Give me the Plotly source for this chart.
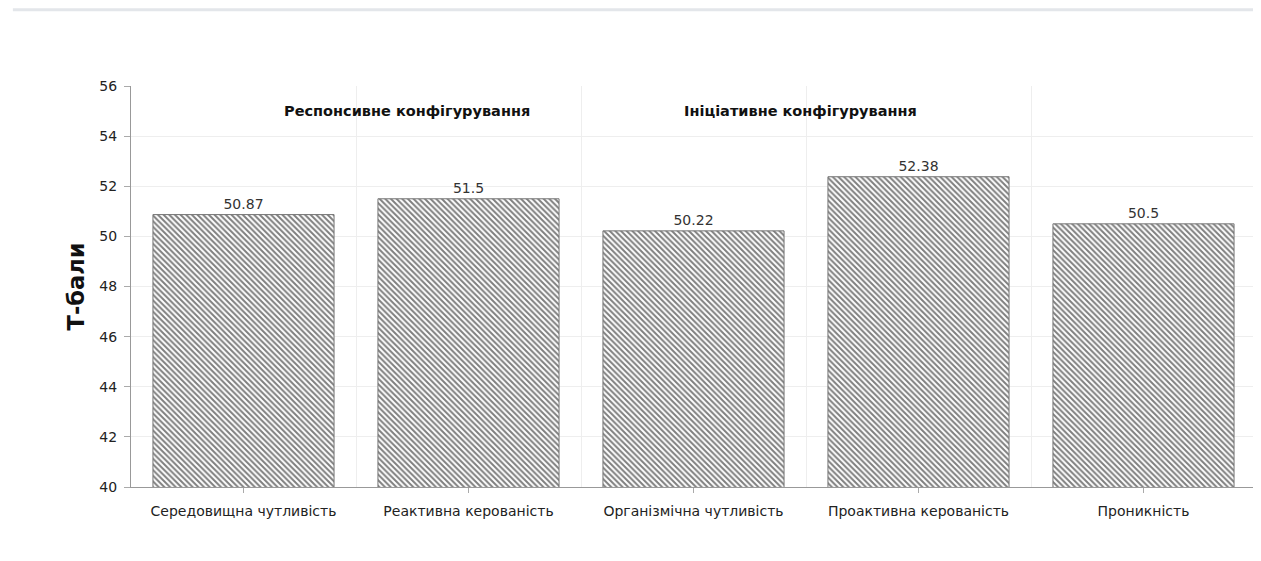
import plotly.graph_objects as go

categories = ["Середовищна чутливість", "Реактивна керованість", "Організмічна чутливість",
              "Проактивна керованість", "Проникність"]
values = [50.87, 51.5, 50.22, 52.38, 50.5]
value_labels = ["50.87", "51.5", "50.22", "52.38", "50.5"]
group_labels = ["Респонсивне конфігурування", "Ініціативне конфігурування"]
group_x = [0.725, 2.475]
y_ticks = [40, 42, 44, 46, 48, 50, 52, 54, 56]

FONT = "DejaVu Sans"
positions = list(range(len(categories)))
boundaries = [p - 0.5 for p in positions] + [positions[-1] + 0.5]

fig = go.Figure(go.Bar(
    x=positions,
    y=values,
    text=value_labels,
    textposition="outside",
    textfont=dict(family=FONT, size=14, color="#333333"),
    cliponaxis=False,
    width=0.805,
    marker=dict(
        color="white",
        line=dict(color="#777777", width=1),
        pattern=dict(shape="\\", fgcolor="#000000", bgcolor="white", size=4, solidity=0.5),
    ),
    hoverinfo="skip",
))

for label, gx in zip(group_labels, group_x):
    fig.add_annotation(x=gx, y=55, text="<b>" + label + "</b>", showarrow=False,
                       font=dict(family=FONT, size=14.5, color="#111111"))

# page border at the top
fig.add_shape(type="line", xref="paper", yref="paper", x0=-0.105, x1=1.0, y0=1.19, y1=1.19,
              line=dict(color="#e3e6ea", width=3))

fig.update_layout(
    width=1261, height=561,
    margin=dict(l=123, r=13, t=78, b=82),
    plot_bgcolor="white", paper_bgcolor="white",
    showlegend=False,
    font=dict(family=FONT, size=14, color="#333333"),
    xaxis=dict(
        range=[-0.5, 4.5],
        tickvals=positions, ticktext=categories,
        ticks="outside", ticklen=5, tickcolor="#aaaaaa",
        ticklabelstandoff=6,
        showline=True, linecolor="#999999", linewidth=1,
        showgrid=False, zeroline=False,
        tickfont=dict(family=FONT, size=14, color="#222222"),
        minor=dict(tickvals=boundaries, showgrid=True, gridcolor="#eeeeee", gridwidth=1, ticks=""),
    ),
    yaxis=dict(
        range=[40, 56],
        tickvals=y_ticks,
        ticks="outside", ticklen=6, tickcolor="#aaaaaa",
        ticklabelstandoff=4,
        showline=True, linecolor="#999999", linewidth=1,
        showgrid=True, gridcolor="#eeeeee", zeroline=False,
        tickfont=dict(family=FONT, size=14, color="#222222"),
        title=dict(text="<b>Т-бали</b>", font=dict(family=FONT, size=22.5, color="#111111"), standoff=8),
    ),
)

fig.write_html("out.html")
